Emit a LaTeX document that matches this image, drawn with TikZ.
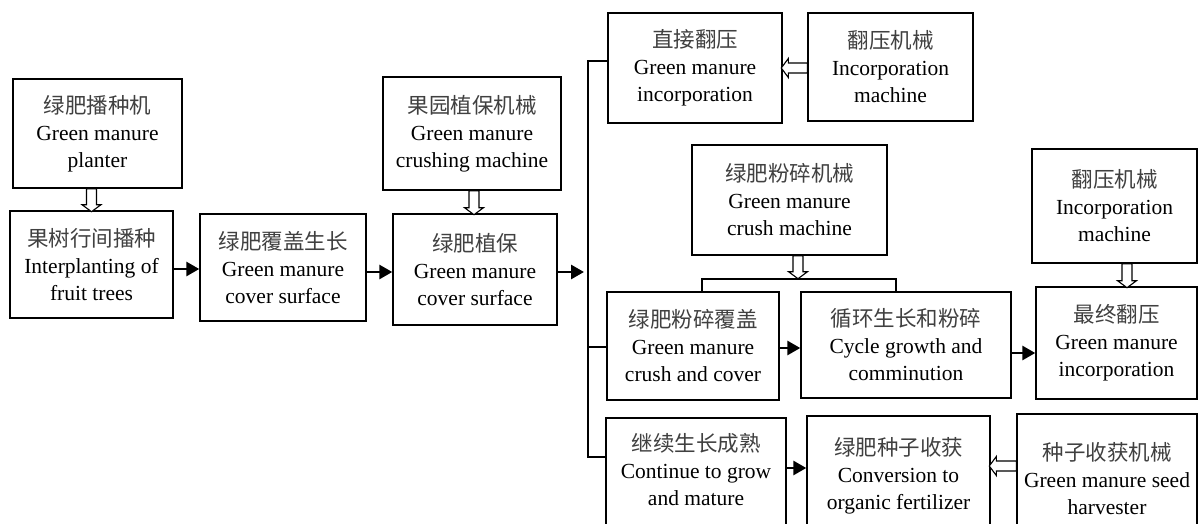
\documentclass[tikz,border=0pt]{standalone}
\usepackage{fontspec}
\setmainfont{Liberation Serif}
\newfontfamily\cjk{Noto Sans CJK SC}
\usetikzlibrary{arrows.meta,calc}
\newcommand\zh[1]{{\cjk\color{black!75}#1}}
\tikzset{
  box/.style={draw, line width=1.4pt, align=center, inner sep=0pt, font=\fontsize{21.5}{27}\selectfont},
  boxtext/.style={align=center, inner sep=0pt, font=\fontsize{21.5}{27}\selectfont},
  sarrow/.style={line width=2.8pt, -{Triangle[length=13pt,width=14pt]}},
  bline/.style={line width=1.4pt},
  pics/harrow/.style={code={\draw[line width=1.1pt, fill=white, line join=miter]
     (-5,0) -- (-5,#1-7) -- (-9.5,#1-7) -- (0,#1) -- (9.5,#1-7) -- (5,#1-7) -- (5,0) -- cycle;}}
}
\begin{document}
\begin{tikzpicture}[x=1pt,y=-1pt]
\path[use as bounding box] (0,0) rectangle (1198,524);
\clip (0,0) rectangle (1198,524);
\fill[white] (0,0) rectangle (1198,524);

% left part
\node[box, minimum width=169pt, minimum height=109pt] (planter) at (97.5,133.5) {\zh{绿肥播种机}\\Green manure\\planter};
\node[box, minimum width=163pt, minimum height=107pt] (interp) at (91.5,264.5) {\zh{果树行间播种}\\Interplanting of\\fruit trees};
\node[box, minimum width=166pt, minimum height=107pt] (cover) at (283,267.5) {\zh{绿肥覆盖生长}\\Green manure\\cover surface};
\node[box, minimum width=178pt, minimum height=113pt] (orchard) at (472,133.5) {\zh{果园植保机械}\\Green manure\\crushing machine};
\node[box, minimum width=164pt, minimum height=111pt] (protect) at (475,269.5) {\zh{绿肥植保}\\Green manure\\cover surface};

% top row right
\node[box, minimum width=174pt, minimum height=110pt] (direct) at (695,68) {\zh{直接翻压}\\Green manure\\incorporation};
\node[box, minimum width=165pt, minimum height=108pt] (incorpA) at (890.5,67) {\zh{翻压机械}\\Incorporation\\machine};
\node[box, minimum width=195pt, minimum height=110pt] (crushm) at (789.5,200) {\zh{绿肥粉碎机械}\\Green manure\\crush machine};
\node[box, minimum width=165pt, minimum height=114pt] (incorpB) at (1114.5,206) {\zh{翻压机械}\\Incorporation\\machine};

% middle row
\node[box, minimum width=172pt, minimum height=108pt] (crushcov) at (693,346) {\zh{绿肥粉碎覆盖}\\Green manure\\crush and cover};
\node[box, minimum width=210pt, minimum height=106pt] (cyc) at (906,345) {\zh{循环生长和粉碎}\\Cycle growth and\\comminution};
\node[box, minimum width=161pt, minimum height=112pt] (final) at (1116.5,343) {\zh{最终翻压}\\Green manure\\incorporation};

% bottom row
\node[box, minimum width=180pt, minimum height=127pt,
      label={[boxtext, yshift=11.5pt]center:{\zh{继续生长成熟}\\Continue to grow\\and mature}}] (grow) at (696,481.5) {};
\node[box, minimum width=183pt, minimum height=120pt] (harvest) at (898.5,476) {\zh{绿肥种子收获}\\Conversion to\\organic fertilizer};
\node[box, minimum width=180pt, minimum height=130pt] (seedh) at (1107,479) {\zh{种子收获机械}\\Green manure seed\\harvester};

% bracket coordinates
\coordinate (brtop) at (588,61);
\coordinate (brmid) at (588,347);
\coordinate (brbot) at (588,457);
\coordinate (brin) at (584,272);
\coordinate (cbL) at (702,279);
\coordinate (cbR) at (896,279);

% solid arrows
\draw[sarrow] (interp.east |- 0,269) -- (cover.west |- 0,269);
\draw[sarrow] (cover.east |- 0,272) -- (protect.west |- 0,272);
\draw[sarrow] (protect.east |- brin) -- (brin);
\draw[sarrow] (crushcov.east |- 0,348) -- (cyc.west |- 0,348);
\draw[sarrow] (cyc.east |- 0,353) -- (final.west |- 0,353);
\draw[sarrow] (grow.east |- 0,468) -- (harvest.west |- 0,468);

% bracket lines
\draw[bline] (direct.west |- brtop) -- (brtop) -- (brbot) -- (grow.west |- brbot);
\draw[bline] (brmid) -- (crushcov.west |- brmid);
\draw[bline] (cbL |- crushcov.north) -- (cbL) -- (cbR) -- (cbR |- cyc.north);

% hollow arrows
\pic at (interp.north |- planter.south) {harrow=23};
\pic at ($(orchard.south)+(2,0)$) {harrow=24};
\pic at ($(crushm.south)+(8.5,0)$) {harrow=23};
\pic at ($(incorpB.south)+(12.5,0)$) {harrow=24};
\pic[rotate=-90] at (incorpA.west |- 0,68) {harrow=26};
\pic[rotate=-90] at (seedh.west |- 0,466) {harrow=27};
\end{tikzpicture}
\end{document}
